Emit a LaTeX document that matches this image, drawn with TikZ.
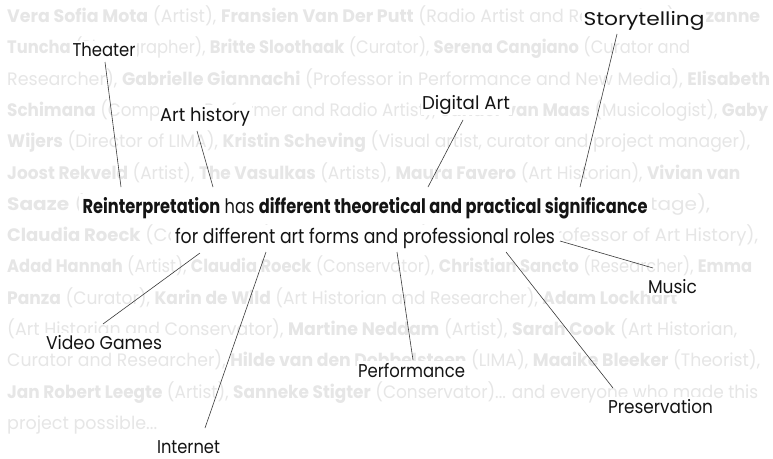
\documentclass[tikz,border=0pt]{standalone}
\usepackage{fontspec}
\usepackage{graphicx}
\setmainfont{Poppins}
\definecolor{bgtext}{HTML}{E6E6E6}
\definecolor{ink}{HTML}{141414}
\definecolor{wire}{HTML}{3A3A3A}

% set #2 horizontally scaled so that it is exactly #1 wide
\newsavebox\fitbox
\newlength\fitlen
\newcommand\fitto[2]{\sbox\fitbox{#2}\setlength\fitlen{\wd\fitbox}%
  \pgfmathsetmacro\fitsx{#1/\fitlen}\scalebox{\fitsx}[1]{\usebox\fitbox}}

\tikzset{
  bgline/.style={anchor=base west, inner sep=0pt, text=bgtext,
    font=\fontsize{18}{20}\selectfont},
  headline/.style={anchor=base, fill=white, inner xsep=4pt, inner ysep=3pt,
    text=ink, font=\fontsize{20}{22}\selectfont},
  label/.style={anchor=base, fill=white, inner sep=1.5pt, text=ink,
    font=\fontsize{18.5}{20}\selectfont},
  conn/.style={draw=wire, line width=0.6pt},
}

\begin{document}
\begin{tikzpicture}[x=1pt, y=-1pt]
\useasboundingbox (0,0) rectangle (773,458);
\fill[white] (0,0) rectangle (773,458);

% acknowledgements in the background
\node[bgline] (bg1)  at (7,22.5)  {\fitto{753pt}{\textbf{Vera Sofia Mota} (Artist), \textbf{Fransien Van Der Putt} (Radio Artist and Researcher), \textbf{Suzanne}}};
\node[bgline] (bg2)  at (7,53.8)  {\fitto{683pt}{\textbf{Tuncha} (Photographer), \textbf{Britte Sloothaak} (Curator), \textbf{Serena Cangiano} (Curator and}};
\node[bgline] (bg3)  at (7,85.1)  {\fitto{763pt}{Researcher), \textbf{Gabrielle Giannachi} (Professor in Performance and New Media), \textbf{Elisabeth}}};
\node[bgline] (bg4)  at (7,116.4) {\fitto{761pt}{\textbf{Schimana} (Composer, Performer and Radio Artist), \textbf{Sander van Maas} (Musicologist), \textbf{Gaby}}};
\node[bgline] (bg5)  at (7,147.7) {\fitto{743pt}{\textbf{Wijers} (Director of LIMA), \textbf{Kristin Scheving} (Visual artist, curator and project manager),}};
\node[bgline] (bg6)  at (7,179.0) {\fitto{733pt}{\textbf{Joost Rekveld} (Artist), \textbf{The Vasulkas} (Artists), \textbf{Maura Favero} (Art Historian), \textbf{Vivian van}}};
\node[bgline] (bg7)  at (7,210.3) {\fitto{703pt}{\textbf{Saaze} (Curator and Associate Professor of Arts and Cultural Heritage),}};
\node[bgline] (bg8)  at (7,241.6) {\fitto{751pt}{\textbf{Claudia Roeck} (Conservator), \textbf{Hanna H\"olling} (Conservator, Professor of Art History),}};
\node[bgline] (bg9)  at (7,272.9) {\fitto{745pt}{\textbf{Adad Hannah} (Artist), \textbf{Claudia Roeck} (Conservator), \textbf{Christian Sancto} (Researcher), \textbf{Emma}}};
\node[bgline] (bg10) at (7,304.2) {\fitto{670pt}{\textbf{Panza} (Curator), \textbf{Karin de Wild} (Art Historian and Researcher), \textbf{Adam Lockhart}}};
\node[bgline] (bg11) at (7,335.5) {\fitto{730pt}{(Art Historian and Conservator), \textbf{Martine Neddam} (Artist), \textbf{Sarah Cook} (Art Historian,}};
\node[bgline] (bg12) at (7,366.8) {\fitto{753pt}{Curator and Researcher), \textbf{Hilde van den Dobbelsteen} (LIMA), \textbf{Maaike Bleeker} (Theorist),}};
\node[bgline] (bg13) at (7,398.1) {\fitto{751pt}{\textbf{Jan Robert Leegte} (Artist), \textbf{Sanneke Stigter} (Conservator)... and everyone who made this}};
\node[bgline] (bg14) at (7,429.4) {\fitto{150pt}{project possible...}};

% central statement
\node[headline] (head1) at (365,213) {\fitto{565pt}{\textbf{Reinterpretation} has \textbf{different theoretical and practical significance}}};
\node[headline] (head2) at (365,243) {\fitto{380pt}{for different art forms and professional roles}};

% fields around the statement
\node[label] (theater)  at (104,56)   {\fitto{63pt}{Theater}};
\node[label] (story)    at (644,25)   {\fitto{121pt}{Storytelling}};
\node[label] (arthist)  at (205,121)  {\fitto{90pt}{Art history}};
\node[label] (digital)  at (466,109)  {\fitto{88pt}{Digital Art}};
\node[label] (video)    at (104,349)  {\fitto{116pt}{Video Games}};
\node[label] (internet) at (188.5,453){\fitto{63pt}{Internet}};
\node[label] (perform)  at (411.5,377){\fitto{107pt}{Performance}};
\node[label] (music)    at (672.5,293){\fitto{49pt}{Music}};
\node[label] (preserve) at (660.5,413){\fitto{105pt}{Preservation}};

% connector end points
\coordinate (theaterA)  at (105,62);   \coordinate (theaterB)  at (121,187);
\coordinate (arthistA)  at (197,131);  \coordinate (arthistB)  at (213,187);
\coordinate (digitalA)  at (463,120);  \coordinate (digitalB)  at (428,187);
\coordinate (storyA)    at (617,34);   \coordinate (storyB)    at (580,187);
\coordinate (videoA)    at (200,253);  \coordinate (videoB)    at (103,324);
\coordinate (internetA) at (266,252);  \coordinate (internetB) at (205,428);
\coordinate (performA)  at (397,252);  \coordinate (performB)  at (413,360);
\coordinate (preserveA) at (506,252);  \coordinate (preserveB) at (613,388);
\coordinate (musicA)    at (560,241);  \coordinate (musicB)    at (653,268);

\draw[conn] (theaterA)  -- (theaterB);
\draw[conn] (arthistA)  -- (arthistB);
\draw[conn] (digitalA)  -- (digitalB);
\draw[conn] (storyA)    -- (storyB);
\draw[conn] (videoA)    -- (videoB);
\draw[conn] (internetA) -- (internetB);
\draw[conn] (performA)  -- (performB);
\draw[conn] (preserveA) -- (preserveB);
\draw[conn] (musicA)    -- (musicB);
\end{tikzpicture}
\end{document}
